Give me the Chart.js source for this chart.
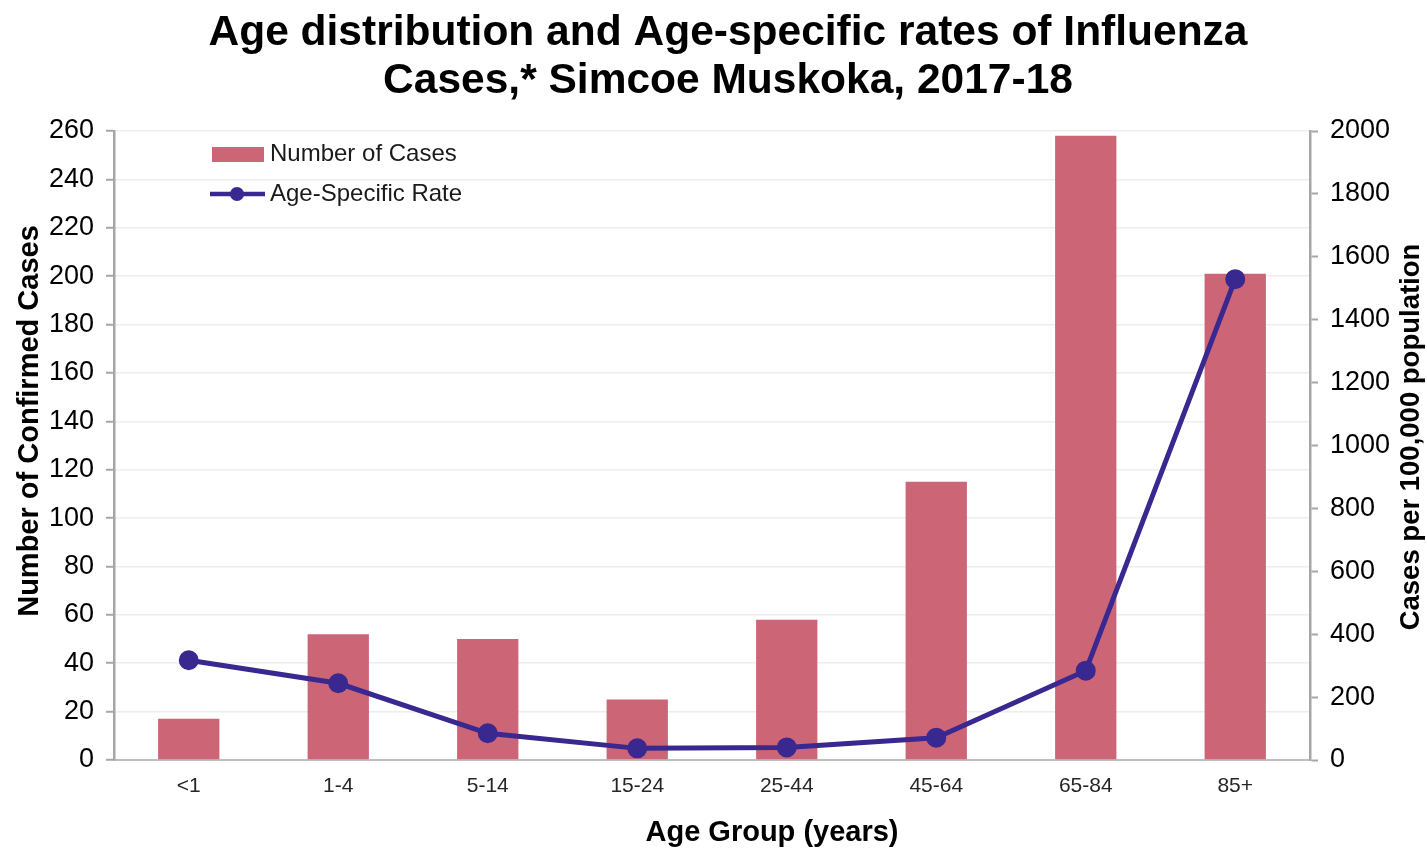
<!DOCTYPE html>
<html>
<head>
<meta charset="utf-8">
<script src="https://cdn.jsdelivr.net/npm/chart.js@4"></script>
<style>
  body { margin: 0; background: #fff; }
  #wrap { width: 1427px; height: 851px; }
</style>
</head>
<body>
<div id="wrap"><canvas id="fluChart"></canvas></div>
<script>
// Chart data
const ageGroups = ['<1', '1-4', '5-14', '15-24', '25-44', '45-64', '65-84', '85+'];
const caseCounts = [17, 52, 50, 25, 58, 115, 258, 201];
const ratePer100k = [317, 244, 85, 37, 40, 71, 284, 1529];

const titleLines = ['Age distribution and Age-specific rates of Influenza', 'Cases,* Simcoe Muskoka, 2017-18'];
const xTitle = 'Age Group (years)';
const yLeftTitle = 'Number of Confirmed Cases';
const yRightTitle = 'Cases per 100,000 population';

const barColor = '#CC6576';
const lineColor = '#38288F';
const axisGray = '#A6A6A6';
const fontFamily = "'Liberation Sans', Arial, sans-serif";

// Title, axis titles and the small legend are drawn here so they sit where the original has them
const chartTexts = {
  id: 'chartTexts',
  afterDraw(chart) {
    const ctx = chart.ctx;
    const area = chart.chartArea;
    const left = area.left;
    const top = area.top;
    ctx.save();
    ctx.fillStyle = '#000';
    ctx.textAlign = 'center';
    ctx.textBaseline = 'middle';

    // main title
    ctx.font = 'bold 42.5px ' + fontFamily;
    ctx.fillText(titleLines[0], 728, 33);
    ctx.fillText(titleLines[1], 728, 81);

    // axis titles
    ctx.font = 'bold 29px ' + fontFamily;
    ctx.fillText(xTitle, 772, 833);

    ctx.save();
    ctx.translate(30, 421);
    ctx.rotate(-Math.PI / 2);
    ctx.fillText(yLeftTitle, 0, 0);
    ctx.restore();

    ctx.font = 'bold 27.5px ' + fontFamily;
    ctx.save();
    ctx.translate(1411, 437);
    ctx.rotate(-Math.PI / 2);
    ctx.fillText(yRightTitle, 0, 0);
    ctx.restore();

    // legend inside the plot, top-left
    ctx.textAlign = 'left';
    ctx.font = '24px ' + fontFamily;
    ctx.fillStyle = barColor;
    ctx.fillRect(left + 98, top + 16, 52, 15);
    ctx.fillStyle = '#1a1a1a';
    ctx.fillText('Number of Cases', left + 156, top + 23);

    const y2 = top + 63;
    ctx.strokeStyle = lineColor;
    ctx.lineWidth = 4.5;
    ctx.beginPath();
    ctx.moveTo(left + 96, y2);
    ctx.lineTo(left + 151, y2);
    ctx.stroke();
    ctx.fillStyle = lineColor;
    ctx.beginPath();
    ctx.arc(left + 123, y2, 7, 0, Math.PI * 2);
    ctx.fill();
    ctx.fillStyle = '#1a1a1a';
    ctx.fillText('Age-Specific Rate', left + 156, y2);
    ctx.restore();
  }
};

const ctx = document.getElementById('fluChart').getContext('2d');
const fluChart = new Chart(ctx, {
  data: {
    labels: ageGroups,
    datasets: [
      {
        type: 'line',
        label: 'Age-Specific Rate',
        data: ratePer100k,
        yAxisID: 'yRate',
        borderColor: lineColor,
        backgroundColor: lineColor,
        borderWidth: 5,
        pointRadius: 7.5,
        pointHoverRadius: 7.5,
        tension: 0,
        order: 0
      },
      {
        type: 'bar',
        label: 'Number of Cases',
        data: caseCounts,
        yAxisID: 'yCases',
        backgroundColor: barColor,
        categoryPercentage: 1,
        barPercentage: 0.41,
        order: 1
      }
    ]
  },
  options: {
    responsive: true,
    maintainAspectRatio: false,
    animation: false,
    layout: { padding: { top: 131 } },
    plugins: {
      legend: { display: false },
      tooltip: { enabled: false },
      title: { display: false }
    },
    scales: {
      x: {
        afterFit: (scale) => { scale.height = 91; },
        grid: { display: true, drawOnChartArea: false, drawTicks: false },
        border: { display: true, color: '#BFBFBF', width: 2 },
        ticks: {
          color: '#262626',
          font: { family: fontFamily, size: 21 },
          padding: 14,
          maxRotation: 0
        }
      },
      yCases: {
        position: 'left',
        min: 0,
        max: 260,
        afterFit: (scale) => { scale.width = 114; },
        ticks: {
          stepSize: 20,
          color: '#000',
          font: { family: fontFamily, size: 27 },
          padding: 12
        },
        grid: {
          color: '#EEEEEE',
          lineWidth: 1.5,
          tickLength: 8,
          tickColor: axisGray,
          tickWidth: 2
        },
        border: { display: true, color: axisGray, width: 2.5 }
      },
      yRate: {
        position: 'right',
        min: 0,
        max: 2000,
        afterFit: (scale) => { scale.width = 117; },
        ticks: {
          stepSize: 200,
          color: '#000',
          font: { family: fontFamily, size: 27 },
          padding: 12,
          callback: (value) => String(value)
        },
        grid: {
          drawOnChartArea: false,
          tickLength: 8,
          tickColor: axisGray,
          tickWidth: 2
        },
        border: { display: true, color: axisGray, width: 2.5 }
      }
    }
  },
  plugins: [chartTexts]
});
</script>
</body>
</html>
